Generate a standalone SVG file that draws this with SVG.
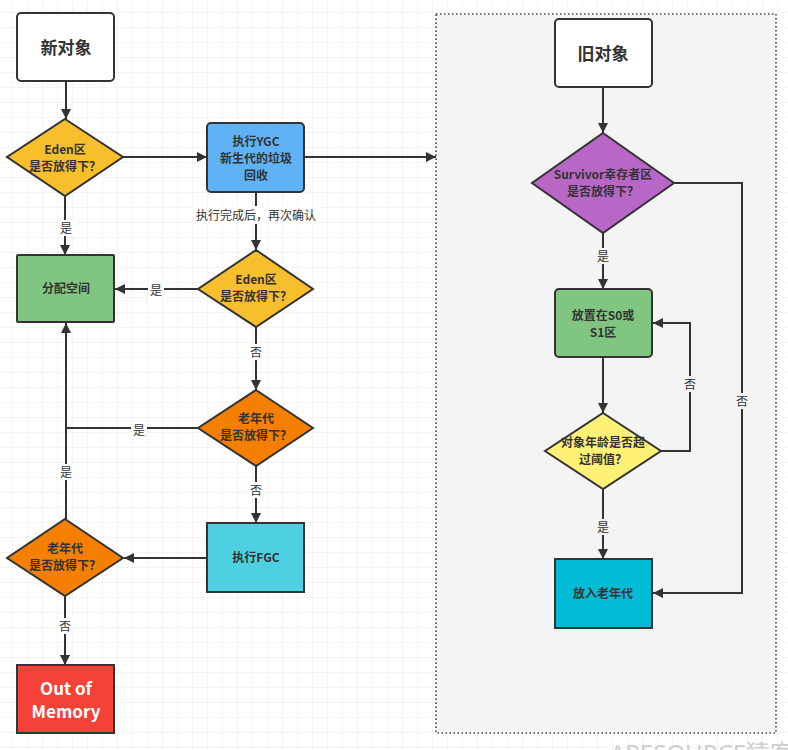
<svg xmlns="http://www.w3.org/2000/svg" width="788" height="750" viewBox="0 0 788 750">
<defs>
<pattern id="grid" x="12" y="12" width="15" height="15" patternUnits="userSpaceOnUse">
<path d="M0 0H15M0 0V15" fill="none" stroke="#e9e9e9" stroke-width="1"/>
</pattern>
<marker id="arr" viewBox="0 0 10 10" refX="10" refY="5" markerWidth="10" markerHeight="10" markerUnits="userSpaceOnUse" orient="auto">
<path d="M0 0L10 5L0 10Z" fill="#333"/>
</marker>
</defs>
<style>
.box{stroke:#333;stroke-width:2}
.t{font-family:"Noto Sans CJK SC","Noto Sans",sans-serif;font-size:12px;font-weight:bold;fill:#333;text-anchor:middle}
.big{font-size:17px}
.line{fill:none;stroke:#333;stroke-width:2}
.lbl{font-family:"Noto Sans CJK SC","Noto Sans",sans-serif;font-size:12px;fill:#333;text-anchor:middle}
</style>
<rect width="788" height="750" fill="#fff"/>
<rect width="788" height="750" fill="url(#grid)"/>
<rect x="436" y="14" width="340" height="719" fill="#f4f4f4" stroke="#444" stroke-width="1.6" stroke-dasharray="1.5 2.5"/>
<text x="610" y="762" font-family="'Noto Sans','Noto Sans CJK SC',sans-serif" font-size="24" fill="#cfcfcf">APESOURCE猿客院</text>

<g id="connectors">
<path class="line" d="M66 81V119" marker-end="url(#arr)"/>
<path class="line" d="M123 157H207" marker-end="url(#arr)"/>
<path class="line" d="M304 157H436" marker-end="url(#arr)"/>
<path class="line" d="M65 196V255" marker-end="url(#arr)"/>
<path class="line" d="M256 192V250" marker-end="url(#arr)"/>
<path class="line" d="M198 289H115" marker-end="url(#arr)"/>
<path class="line" d="M256 327V390" marker-end="url(#arr)"/>
<path class="line" d="M198 428H66"/>
<path class="line" d="M66 519V323" marker-end="url(#arr)"/>
<path class="line" d="M256 466V523" marker-end="url(#arr)"/>
<path class="line" d="M207 558H124" marker-end="url(#arr)"/>
<path class="line" d="M65 596V665" marker-end="url(#arr)"/>
<path class="line" d="M603 87V133" marker-end="url(#arr)"/>
<path class="line" d="M603 233V289" marker-end="url(#arr)"/>
<path class="line" d="M603 357V413" marker-end="url(#arr)"/>
<path class="line" d="M661 451H690V323H653" marker-end="url(#arr)"/>
<path class="line" d="M603 489V559" marker-end="url(#arr)"/>
<path class="line" d="M674 183H742V593H653" marker-end="url(#arr)"/>
<rect x="58" y="220" width="16" height="16" fill="#fff"/><text class="lbl" x="66" y="233">是</text>
<rect x="192" y="206" width="128" height="18" fill="#fff"/><text class="lbl" x="256" y="220">执行完成后，再次确认</text>
<rect x="148" y="282" width="16" height="16" fill="#fff"/><text class="lbl" x="156" y="295">是</text>
<rect x="248" y="344" width="16" height="16" fill="#fff"/><text class="lbl" x="256" y="357">否</text>
<rect x="131" y="422" width="16" height="16" fill="#fff"/><text class="lbl" x="139" y="435">是</text>
<rect x="58" y="464" width="16" height="16" fill="#fff"/><text class="lbl" x="66" y="477">是</text>
<rect x="248" y="482" width="16" height="16" fill="#fff"/><text class="lbl" x="256" y="495">否</text>
<rect x="57" y="618" width="16" height="16" fill="#fff"/><text class="lbl" x="65" y="631">否</text>
<rect x="595" y="248" width="16" height="16" fill="#f4f4f4"/><text class="lbl" x="603" y="261">是</text>
<rect x="682" y="376" width="16" height="16" fill="#f4f4f4"/><text class="lbl" x="690" y="389">否</text>
<rect x="734" y="393" width="16" height="16" fill="#f4f4f4"/><text class="lbl" x="742" y="406">否</text>
<rect x="595" y="519" width="16" height="16" fill="#f4f4f4"/><text class="lbl" x="603" y="532">是</text>
</g>

<g id="new-object"><rect class="box" x="17" y="13" width="97" height="68" rx="4" fill="#fff"/><text class="t big" x="66" y="54">新对象</text></g>
<g id="eden1"><path class="box" d="M65 119L123 157L65 196L7 157Z" fill="#f8bf2c"/><text class="t" x="65" y="154">Eden区</text><text class="t" x="65" y="171">是否放得下？</text></g>
<g id="ygc"><rect class="box" x="207" y="123" width="97" height="69" rx="4" fill="#5fb3f4"/><text class="t" x="256" y="146">执行YGC</text><text class="t" x="256" y="163">新生代的垃圾</text><text class="t" x="256" y="180">回收</text></g>
<g id="alloc"><rect class="box" x="17" y="255" width="97" height="67" rx="1" fill="#80c680"/><text class="t" x="66" y="293">分配空间</text></g>
<g id="eden2"><path class="box" d="M256 250L313 289L256 327L198 289Z" fill="#f8bf2c"/><text class="t" x="256" y="284">Eden区</text><text class="t" x="256" y="301">是否放得下？</text></g>
<g id="old1"><path class="box" d="M256 390L313 428L256 466L198 428Z" fill="#f47f00"/><text class="t" x="256" y="423">老年代</text><text class="t" x="256" y="440">是否放得下？</text></g>
<g id="fgc"><rect class="box" x="207" y="523" width="97" height="69" fill="#4dd0e1"/><text class="t" x="256" y="562">执行FGC</text></g>
<g id="old2"><path class="box" d="M65 519L123 558L65 596L7 558Z" fill="#f47f00"/><text class="t" x="65" y="553">老年代</text><text class="t" x="65" y="570">是否放得下？</text></g>
<g id="oom"><rect class="box" x="17" y="665" width="97" height="68" fill="#f44336"/><text class="t" x="66" y="695" style="fill:#fff;font-size:17px">Out of</text><text class="t" x="66" y="718" style="fill:#fff;font-size:17px">Memory</text></g>

<g id="old-object"><rect class="box" x="555" y="19" width="97" height="68" rx="4" fill="#fff"/><text class="t big" x="603" y="60">旧对象</text></g>
<g id="survivor"><path class="box" d="M603 133L674 183L603 233L532 183Z" fill="#b967c7"/><text class="t" x="603" y="179">Survivor幸存者区</text><text class="t" x="603" y="196">是否放得下？</text></g>
<g id="s0s1"><rect class="box" x="555" y="289" width="97" height="68" rx="4" fill="#80c680"/><text class="t" x="603" y="320">放置在S0或</text><text class="t" x="603" y="337">S1区</text></g>
<g id="age"><path class="box" d="M603 413L661 451L603 489L545 451Z" fill="#fff176"/><text class="t" x="603" y="447">对象年龄是否超</text><text class="t" x="603" y="464">过阈值？</text></g>
<g id="tenure"><rect class="box" x="555" y="559" width="97" height="69" fill="#00bcd4"/><text class="t" x="603" y="598">放入老年代</text></g>
</svg>
